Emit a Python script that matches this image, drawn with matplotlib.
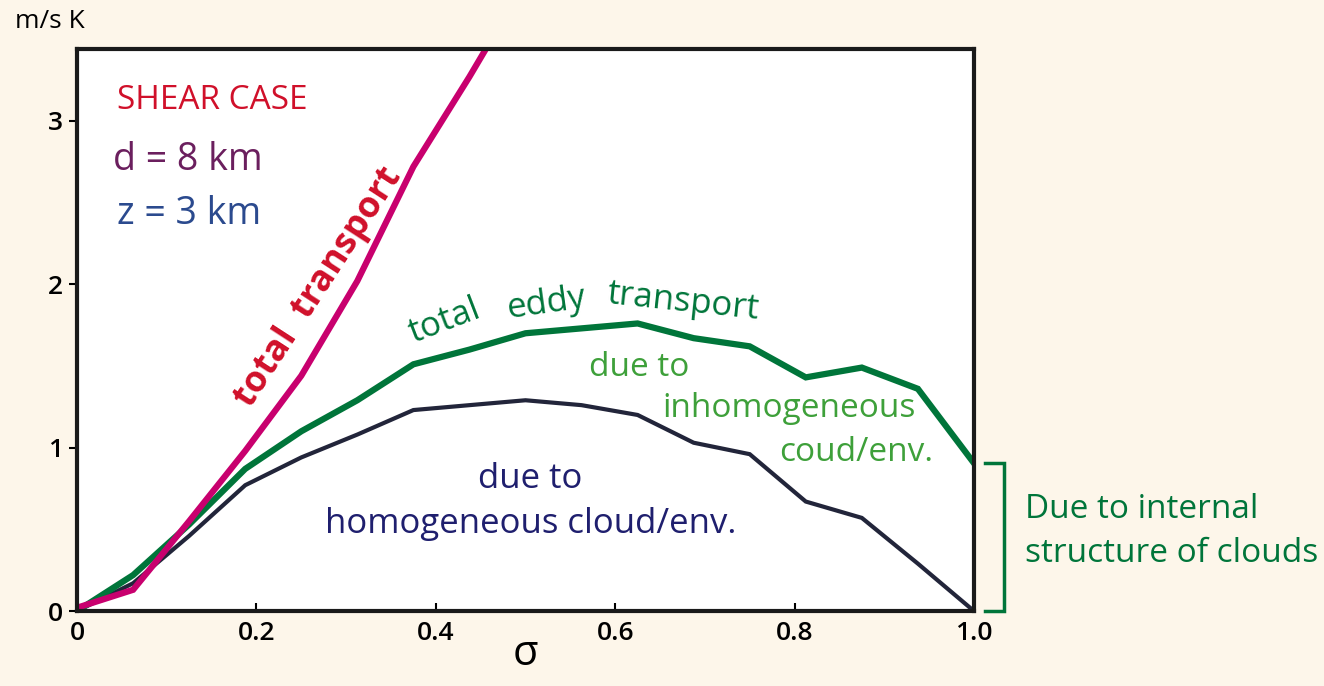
import numpy as np
import matplotlib
matplotlib.use("Agg")
import matplotlib.pyplot as plt

plt.rcParams['font.family'] = ['Open Sans', 'DejaVu Sans']

# sigma sampled every 1/16
sigma = [0.0, 0.0625, 0.125, 0.1875, 0.25, 0.3125, 0.375, 0.4375, 0.5,
         0.5625, 0.625, 0.6875, 0.75, 0.8125, 0.875, 0.9375, 1.0]
total_transport = [0.02, 0.13, 0.55, 0.98, 1.44, 2.02, 2.72, 3.27, 3.85,
                   4.4, 5.0, 5.6, 6.2, 6.8, 7.4, 8.0, 8.6]
eddy_transport = [0.0, 0.22, 0.53, 0.87, 1.10, 1.29, 1.51, 1.60, 1.70,
                  1.73, 1.76, 1.67, 1.62, 1.43, 1.49, 1.36, 0.905]
homog_transport = [0.0, 0.17, 0.46, 0.77, 0.94, 1.08, 1.23, 1.26, 1.29,
                   1.26, 1.20, 1.03, 0.96, 0.67, 0.57, 0.29, 0.0]

xticks = [0, 0.2, 0.4, 0.6, 0.8, 1.0]
xticklabels = ['0', '0.2', '0.4', '0.6', '0.8', '1.0']
yticks = [0, 1, 2, 3]

bg = '#fdf6ea'
magenta = '#c8006e'
dkgreen = '#00753a'
ltgreen = '#3ea03a'
navy = '#22253a'
red = '#d0102a'

fig = plt.figure(figsize=(13.24, 6.86), dpi=100, facecolor=bg)
ax = fig.add_axes([0.0582, 0.1093, 0.6774, 0.8193])
ax.set_facecolor('white')

ax.plot(sigma, homog_transport, color=navy, lw=3.0, solid_joinstyle='miter')
ax.plot(sigma, eddy_transport, color=dkgreen, lw=4.5, solid_joinstyle='miter')
ax.plot(sigma, total_transport, color=magenta, lw=4.5, solid_joinstyle='miter')

ax.set_xlim(0, 1.0)
ax.set_ylim(0, 3.44)
ax.set_xticks(xticks)
ax.set_xticklabels(xticklabels)
ax.set_yticks(yticks)
for s in ax.spines.values():
    s.set_linewidth(3)
    s.set_color('#1a1a1a')
ax.tick_params(axis='x', direction='in', length=6, width=1.5, pad=7,
               labelsize=19)
ax.tick_params(axis='y', direction='out', length=6, width=1.5, pad=4,
               labelsize=19)
for lab in ax.get_xticklabels() + ax.get_yticklabels():
    lab.set_fontweight('semibold')

ax.set_xlabel('σ', fontsize=30, labelpad=-9)
fig.text(0.011, 0.968, 'm/s K', fontsize=19, ha='left', va='center')

# case annotation
ax.text(0.0446, 3.125, 'SHEAR CASE', color=red, fontsize=24,
        ha='left', va='center')
ax.text(0.040, 2.76, 'd = 8 km', color='#6b1f5e', fontsize=27,
        ha='left', va='center')
ax.text(0.0446, 2.43, 'z = 3 km', color='#2b4a8e', fontsize=27,
        ha='left', va='center')

# curve labels
ax.text(0.269, 1.98, 'total  transport', color=red, fontsize=26,
        fontweight='bold', rotation=57, ha='center', va='center',
        rotation_mode='anchor')
ax.text(0.41, 1.77, 'total', color=dkgreen, fontsize=25, rotation=21,
        ha='center', va='center', rotation_mode='anchor')
ax.text(0.523, 1.88, 'eddy', color=dkgreen, fontsize=25, rotation=8,
        ha='center', va='center', rotation_mode='anchor')
ax.text(0.676, 1.89, 'transport', color=dkgreen, fontsize=25, rotation=-6,
        ha='center', va='center', rotation_mode='anchor')

ax.text(0.627, 1.49, 'due to', color=ltgreen, fontsize=24,
        ha='center', va='center')
ax.text(0.794, 1.24, 'inhomogeneous', color=ltgreen, fontsize=24,
        ha='center', va='center')
ax.text(0.869, 0.97, 'coud/env.', color=ltgreen, fontsize=24,
        ha='center', va='center')

ax.text(0.505, 0.81, 'due to', color='#1f1f6e', fontsize=25,
        ha='center', va='center')
ax.text(0.506, 0.53, 'homogeneous cloud/env.', color='#1f1f6e', fontsize=25,
        ha='center', va='center')

# bracket between eddy and homogeneous end values
top = eddy_transport[-1]
bot = homog_transport[-1]
ax.plot([1.012, 1.033, 1.033, 1.012], [top, top, bot, bot], color=dkgreen,
        lw=2.5, clip_on=False, solid_joinstyle='miter')
ax.text(1.057, 0.62, 'Due to internal', color=dkgreen, fontsize=24,
        ha='left', va='center', clip_on=False)
ax.text(1.057, 0.355, 'structure of clouds', color=dkgreen, fontsize=24,
        ha='left', va='center', clip_on=False)

fig.savefig('out.png', dpi=100, facecolor=bg)
